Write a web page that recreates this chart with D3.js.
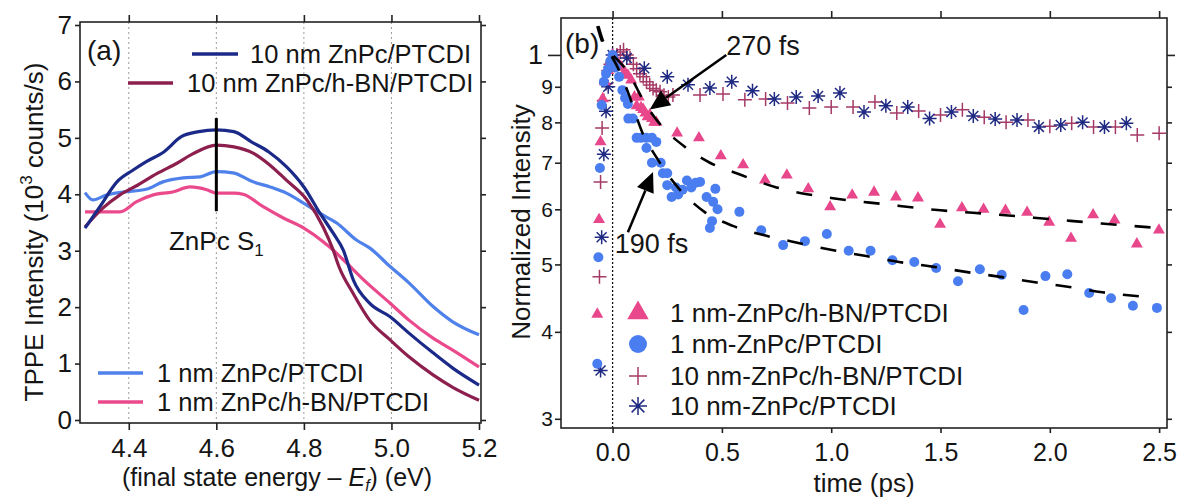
<!DOCTYPE html>
<html><head><meta charset="utf-8">
<script src="https://cdn.jsdelivr.net/npm/d3@7"></script>
<style>
body{margin:0;background:#fff}
svg{display:block}
text{font-family:"Liberation Sans",Arial,sans-serif;fill:#151515}
</style>
</head><body>
<svg id="c" width="1185" height="498"></svg>
<script>
// ---------------- Panel (a) data: [energy (eV), intensity (10^3 counts/s)] ----------------
const seriesNamesA = ["10 nm ZnPc/PTCDI","10 nm ZnPc/h-BN/PTCDI","1 nm ZnPc/PTCDI","1 nm ZnPc/h-BN/PTCDI"];
const thick10 = [[4.30,3.40],[4.334,3.78],[4.373,4.22],[4.41,4.43],[4.44,4.58],[4.48,4.75],[4.52,5.02],[4.56,5.11],[4.60,5.14],[4.64,5.11],[4.68,4.93],[4.72,4.75],[4.76,4.49],[4.80,4.13],[4.837,3.66],[4.867,3.31],[4.89,3.01],[4.913,2.48],[4.95,2.07],[4.997,1.83],[5.04,1.54],[5.095,1.19],[5.14,0.92],[5.20,0.62]];
const thick10hBN = [[4.30,3.42],[4.34,3.75],[4.38,3.99],[4.42,4.16],[4.465,4.37],[4.51,4.55],[4.547,4.72],[4.60,4.87],[4.64,4.84],[4.684,4.73],[4.722,4.52],[4.76,4.25],[4.807,3.90],[4.844,3.42],[4.867,3.01],[4.88,2.72],[4.912,2.25],[4.95,1.77],[4.997,1.42],[5.04,1.12],[5.095,0.80],[5.14,0.58],[5.20,0.35]];
const thin1 = [[4.30,4.03],[4.318,3.90],[4.35,3.99],[4.387,4.04],[4.44,4.09],[4.478,4.22],[4.524,4.29],[4.563,4.31],[4.60,4.40],[4.638,4.38],[4.684,4.22],[4.723,4.13],[4.76,4.02],[4.80,3.84],[4.837,3.66],[4.875,3.49],[4.92,3.19],[4.95,3.05],[4.997,2.72],[5.04,2.43],[5.095,2.01],[5.14,1.74],[5.20,1.51]];
const thin1hBN = [[4.30,3.69],[4.38,3.69],[4.418,3.87],[4.456,3.99],[4.50,4.04],[4.54,4.13],[4.578,4.08],[4.60,4.02],[4.64,4.02],[4.661,4.00],[4.707,3.78],[4.753,3.58],[4.80,3.40],[4.844,3.16],[4.867,3.01],[4.89,2.84],[4.944,2.43],[4.997,2.07],[5.04,1.77],[5.095,1.45],[5.14,1.24],[5.20,0.94]];
const xTicksA = [4.4,4.6,4.8,5.0,5.2];
const xTickLabelsA = ["4.4","4.6","4.8","5.0","5.2"];
const yTicksA = [0,1,2,3,4,5,6,7];
const yTickLabelsA = ["0","1","2","3","4","5","6","7"];
const gridA = [4.4,4.6,4.8,5.0];
const s1Marker = {e:4.6, top:5.35, bottom:3.7};

// ---------------- Panel (b) data: [time (ps), normalized intensity] ----------------
const seriesNamesB = ["1 nm-ZnPc/h-BN/PTCDI","1 nm-ZnPc/PTCDI","10 nm-ZnPc/h-BN/PTCDI","10 nm-ZnPc/PTCDI"];
const tri1hBN = [[-0.07,0.424],[-0.062,0.58],[-0.055,0.75],[-0.045,0.865],[-0.035,0.915],[-0.02,0.95],[-0.01,0.975],[0.0,1.0],[0.01,0.99],[0.025,0.975],[0.04,0.96],[0.055,0.945],[0.07,0.935],[0.085,0.92],[0.10,0.87],[0.11,0.845],[0.12,0.87],[0.13,0.84],[0.14,0.835],[0.15,0.825],[0.16,0.815],[0.17,0.82],[0.18,0.81],[0.19,0.80],[0.20,0.80],[0.295,0.772],[0.395,0.76],[0.495,0.716],[0.597,0.695],[0.697,0.661],[0.797,0.672],[0.895,0.642],[0.995,0.605],[1.096,0.629],[1.196,0.635],[1.296,0.625],[1.397,0.623],[1.498,0.571],[1.598,0.603],[1.697,0.60],[1.797,0.598],[1.896,0.594],[1.997,0.575],[2.097,0.545],[2.198,0.589],[2.296,0.579],[2.398,0.535],[2.499,0.56]];
const circ1 = [[-0.07,0.36],[-0.065,0.512],[-0.058,0.688],[-0.05,0.847],[-0.04,0.915],[-0.03,0.94],[-0.02,0.955],[-0.01,0.98],[0.0,1.0],[0.005,0.985],[0.015,0.96],[0.03,0.93],[0.045,0.89],[0.057,0.867],[0.07,0.85],[0.072,0.81],[0.093,0.81],[0.11,0.76],[0.13,0.76],[0.155,0.76],[0.18,0.76],[0.20,0.75],[0.155,0.735],[0.18,0.70],[0.22,0.70],[0.23,0.676],[0.25,0.676],[0.25,0.65],[0.27,0.625],[0.29,0.645],[0.30,0.63],[0.32,0.64],[0.34,0.66],[0.36,0.645],[0.38,0.655],[0.40,0.657],[0.43,0.625],[0.47,0.642],[0.46,0.615],[0.48,0.60],[0.455,0.577],[0.445,0.564],[0.58,0.595],[0.68,0.56],[0.78,0.533],[0.88,0.54],[0.98,0.553],[1.08,0.523],[1.18,0.523],[1.28,0.507],[1.38,0.504],[1.48,0.494],[1.58,0.473],[1.68,0.492],[1.78,0.483],[1.88,0.43],[1.98,0.481],[2.08,0.484],[2.18,0.455],[2.28,0.447],[2.38,0.436],[2.49,0.433]];
const plus10hBN = [[-0.06,0.48],[-0.055,0.657],[-0.048,0.785],[-0.04,0.86],[-0.03,0.91],[-0.02,0.95],[-0.01,0.97],[0.0,0.98],[0.02,1.0],[0.035,1.01],[0.05,1.017],[0.065,1.0],[0.08,0.99],[0.095,0.97],[0.11,0.955],[0.125,0.94],[0.14,0.93],[0.155,0.915],[0.17,0.905],[0.185,0.895],[0.20,0.89],[0.217,0.885],[0.235,0.875],[0.255,0.87],[0.276,0.876],[0.40,0.876],[0.505,0.879],[0.605,0.862],[0.70,0.864],[0.80,0.853],[0.90,0.839],[1.0,0.842],[1.1,0.842],[1.2,0.856],[1.3,0.825],[1.4,0.831],[1.5,0.82],[1.6,0.834],[1.7,0.814],[1.8,0.80],[1.9,0.806],[2.0,0.79],[2.1,0.798],[2.2,0.788],[2.3,0.788],[2.4,0.767],[2.5,0.772]];
const star10 = [[-0.055,0.352],[-0.05,0.547],[-0.04,0.72],[-0.03,0.83],[-0.02,0.90],[-0.01,0.96],[0.0,1.0],[0.065,0.99],[0.145,0.957],[0.25,0.93],[0.345,0.906],[0.445,0.896],[0.545,0.915],[0.64,0.888],[0.74,0.864],[0.84,0.87],[0.94,0.873],[1.04,0.882],[1.15,0.828],[1.25,0.845],[1.35,0.842],[1.45,0.81],[1.55,0.828],[1.65,0.817],[1.75,0.809],[1.85,0.806],[1.95,0.788],[2.05,0.793],[2.15,0.80],[2.25,0.788],[2.35,0.798]];
const fitTri = [[-0.065,1.10],[-0.04,1.04],[-0.015,1.01],[0.0,1.0],[0.07,0.945],[0.15,0.85],[0.21,0.80],[0.33,0.738],[0.445,0.70],[0.567,0.676],[0.75,0.645],[1.0,0.623],[1.25,0.61],[1.5,0.598],[1.75,0.59],[2.0,0.581],[2.25,0.572],[2.5,0.564]];
const fitCirc = [[-0.07,1.10],[-0.045,1.04],[-0.02,1.01],[0.0,0.99],[0.07,0.885],[0.135,0.775],[0.20,0.713],[0.29,0.65],[0.42,0.595],[0.55,0.568],[0.70,0.55],[0.86,0.536],[1.01,0.524],[1.16,0.514],[1.31,0.504],[1.47,0.496],[1.63,0.487],[1.79,0.479],[1.94,0.471],[2.09,0.464],[2.24,0.456],[2.44,0.449]];
const xTicksB = [0,0.5,1.0,1.5,2.0,2.5];
const xTickLabelsB = ["0.0","0.5","1.0","1.5","2.0","2.5"];
const yTicksB = [0.3,0.4,0.5,0.6,0.7,0.8,0.9,1];
const yTickLabelsB = ["3","4","5","6","7","8","9","1"];
const arrows = [{label:"270 fs", from:[0.52,1.0], to:[0.17,0.835], text:[0.52,1.0]},
                {label:"190 fs", from:[0.07,0.556], to:[0.185,0.679], text:[0.01,0.519]}];

// ---------------- colours ----------------
const cNavy="#1b2a88", cMaroon="#8c1f4e", cBlue="#4f81ea", cPink="#ea4a8c";
const mPink="#e9478b", mBlue="#4a7ef0", mPlus="#a53a66", mStar="#1f2a82";
const axisCol="#222";

const svg = d3.select("#c");

function styleAxis(g, fs){
  g.select(".domain").remove();
  g.selectAll(".tick line").attr("stroke",axisCol).attr("stroke-width",1.6);
  g.selectAll("text").attr("font-size",fs).attr("fill","#151515")
   .style("font-family","'Liberation Sans',Arial,sans-serif");
}

// ================= PANEL A =================
const xA = d3.scaleLinear().domain([4.3,5.2]).range([85,479]);
const yA = d3.scaleLinear().domain([0,7]).range([420,25]);
const fA = {l:80, r:481, t:22, b:423};

svg.append("g").selectAll("line").data(gridA).join("line")
  .attr("x1",d=>xA(d)).attr("x2",d=>xA(d)).attr("y1",fA.t).attr("y2",fA.b)
  .attr("stroke","#9a9a9a").attr("stroke-width",1).attr("stroke-dasharray","2,3");

svg.append("g").attr("transform",`translate(${fA.l},0)`)
  .call(d3.axisLeft(yA).tickValues(yTicksA).tickSize(5).tickPadding(3).tickFormat((d,i)=>yTickLabelsA[i])).call(g=>styleAxis(g,26));
svg.append("g").attr("transform",`translate(${fA.r},0)`)
  .call(d3.axisRight(yA).tickValues(yTicksA).tickSize(5).tickFormat("")).call(g=>styleAxis(g,26));
svg.append("g").attr("transform",`translate(0,${fA.b})`)
  .call(d3.axisBottom(xA).tickValues(xTicksA).tickSize(7).tickPadding(9).tickFormat((d,i)=>xTickLabelsA[i])).call(g=>styleAxis(g,26));
svg.append("g").attr("transform",`translate(0,${fA.t})`)
  .call(d3.axisTop(xA).tickValues(xTicksA).tickSize(7).tickFormat("")).call(g=>styleAxis(g,26));
svg.append("rect").attr("x",fA.l).attr("y",fA.t).attr("width",fA.r-fA.l).attr("height",fA.b-fA.t)
  .attr("fill","none").attr("stroke",axisCol).attr("stroke-width",1.6);

const lineA = d3.line().x(d=>xA(d[0])).y(d=>yA(d[1])).curve(d3.curveMonotoneX);
const curvesA = [[thin1,cBlue],[thin1hBN,cPink],[thick10hBN,cMaroon],[thick10,cNavy]];
svg.append("g").selectAll("path").data(curvesA).join("path")
  .attr("d",d=>lineA(d[0])).attr("fill","none").attr("stroke",d=>d[1]).attr("stroke-width",3.2);

svg.append("line").attr("x1",xA(s1Marker.e)).attr("x2",xA(s1Marker.e))
  .attr("y1",yA(s1Marker.top)).attr("y2",yA(s1Marker.bottom)).attr("stroke","#000").attr("stroke-width",3);
const s1t = svg.append("text").attr("x",xA(s1Marker.e)).attr("y",250).attr("text-anchor","middle").attr("font-size",26);
s1t.append("tspan").text("ZnPc S");
s1t.append("tspan").text("1").attr("font-size",17).attr("dy",6);

svg.append("text").attr("x",87).attr("y",60).attr("font-size",28).text("(a)");

// legend (a)
const legA = [
  {name:seriesNamesA[0], col:cNavy, x1:192, x2:238, y:54, tx:250},
  {name:seriesNamesA[1], col:cMaroon, x1:128, x2:173, y:83, tx:187},
  {name:seriesNamesA[2], col:cBlue, x1:98, x2:143, y:373, tx:157},
  {name:seriesNamesA[3], col:cPink, x1:98, x2:143, y:402, tx:157}];
legA.forEach(d=>{
  svg.append("line").attr("x1",d.x1).attr("x2",d.x2).attr("y1",d.y).attr("y2",d.y).attr("stroke",d.col).attr("stroke-width",3.5);
  svg.append("text").attr("x",d.tx).attr("y",d.y+9).attr("font-size",25.5).text(d.name);
});

// axis titles (a)
const xtA = svg.append("text").attr("x",277).attr("y",486).attr("text-anchor","middle").attr("font-size",25);
xtA.append("tspan").text("(final state energy \u2013 ");
xtA.append("tspan").text("E").attr("font-style","italic");
xtA.append("tspan").text("f").attr("font-style","italic").attr("font-size",16).attr("dy",5);
xtA.append("tspan").text(") (eV)").attr("dy",-5);
const ytA = svg.append("text").attr("transform","translate(43,232) rotate(-90)").attr("text-anchor","middle").attr("font-size",26);
ytA.append("tspan").text("TPPE Intensity (10");
ytA.append("tspan").text("3").attr("font-size",17).attr("dy",-11);
ytA.append("tspan").text(" counts/s)").attr("dy",11);

// ================= PANEL B =================
const xB = d3.scaleLinear().domain([-0.236,2.536]).range([561,1167]);
const yB = d3.scaleLog().domain([0.291,1.13]).range([428,18]);
const fB = {l:561, r:1167, t:18, b:428};

svg.append("line").attr("x1",xB(0)).attr("x2",xB(0)).attr("y1",fB.t).attr("y2",fB.b)
  .attr("stroke","#111").attr("stroke-width",1.3).attr("stroke-dasharray","2,2");

const gyL = svg.append("g").attr("transform",`translate(${fB.l},0)`)
  .call(d3.axisLeft(yB).tickValues(yTicksB).tickSize(6).tickPadding(2).tickFormat((d,i)=>yTickLabelsB[i])).call(g=>styleAxis(g,21));
gyL.selectAll(".tick").filter(d=>d===1).call(t=>{
  t.select("line").attr("x2",-13);
  t.select("text").attr("x",-18).attr("font-size",27);
});
const gyR = svg.append("g").attr("transform",`translate(${fB.r},0)`)
  .call(d3.axisRight(yB).tickValues(yTicksB).tickSize(5).tickFormat("")).call(g=>styleAxis(g,21));
gyR.selectAll(".tick").filter(d=>d===1).select("line").attr("x2",8);
svg.append("g").attr("transform",`translate(0,${fB.b})`)
  .call(d3.axisBottom(xB).tickValues(xTicksB).tickSize(5).tickPadding(10).tickFormat((d,i)=>xTickLabelsB[i])).call(g=>styleAxis(g,25));
svg.append("g").attr("transform",`translate(0,${fB.t})`)
  .call(d3.axisTop(xB).tickValues(xTicksB).tickSize(7).tickFormat("")).call(g=>styleAxis(g,25));
svg.append("rect").attr("x",fB.l).attr("y",fB.t).attr("width",fB.r-fB.l).attr("height",fB.b-fB.t)
  .attr("fill","none").attr("stroke",axisCol).attr("stroke-width",1.6);

svg.append("clipPath").attr("id","clipB").append("rect")
  .attr("x",fB.l).attr("y",fB.t).attr("width",fB.r-fB.l).attr("height",fB.b-fB.t);
const pB = svg.append("g").attr("clip-path","url(#clipB)");

function starPath(r){
  const a=r*0.7071;
  return `M${-r},0L${r},0M0,${-r}L0,${r}M${-a},${-a}L${a},${a}M${-a},${a}L${a},${-a}`;
}
function plusPath(r){ return `M${-r},0L${r},0M0,${-r}L0,${r}`; }

// markers
pB.append("g").selectAll("path").data(plus10hBN).join("path")
  .attr("transform",d=>`translate(${xB(d[0])},${yB(d[1])})`).attr("d",plusPath(7))
  .attr("stroke",mPlus).attr("stroke-width",1.5).attr("fill","none");
pB.append("g").selectAll("g").data(star10).join("g")
  .attr("transform",d=>`translate(${xB(d[0])},${yB(d[1])})`)
  .call(g=>{g.append("path").attr("d",starPath(7)).attr("stroke",mStar).attr("stroke-width",1.5).attr("fill","none");
            g.append("circle").attr("r",1.6).attr("fill",mStar);});
pB.append("g").selectAll("path").data(tri1hBN).join("path")
  .attr("transform",d=>`translate(${xB(d[0])},${yB(d[1])})`).attr("d",d3.symbol(d3.symbolTriangle,62)())
  .attr("fill",mPink);
pB.append("g").selectAll("circle").data(circ1).join("circle")
  .attr("cx",d=>xB(d[0])).attr("cy",d=>yB(d[1])).attr("r",5).attr("fill",mBlue);

// fits
const lineB = d3.line().x(d=>xB(d[0])).y(d=>yB(d[1])).curve(d3.curveMonotoneX);
pB.append("g").selectAll("path").data([fitTri,fitCirc]).join("path")
  .attr("d",d=>lineB(d)).attr("fill","none").attr("stroke","#000").attr("stroke-width",2.6)
  .attr("stroke-dasharray","16,18");

// arrows
arrows.forEach(a=>{
  const x1=xB(a.from[0]), y1=yB(a.from[1]), x2=xB(a.to[0]), y2=yB(a.to[1]);
  const ang=Math.atan2(y2-y1,x2-x1), L=20, W=9;
  const bx=x2-L*Math.cos(ang), by=y2-L*Math.sin(ang);
  svg.append("line").attr("x1",x1).attr("y1",y1).attr("x2",bx).attr("y2",by).attr("stroke","#000").attr("stroke-width",2.5);
  svg.append("path").attr("d",`M${x2},${y2}L${bx+W*Math.sin(ang)},${by-W*Math.cos(ang)}L${bx-W*Math.sin(ang)},${by+W*Math.cos(ang)}Z`).attr("fill","#000");
  svg.append("text").attr("x",xB(a.text[0])).attr("y",yB(a.text[1])).attr("font-size",27).text(a.label);
});

svg.append("text").attr("x",565).attr("y",53).attr("font-size",28).text("(b)");

// legend (b)
const legB = [{y:313,type:"tri"},{y:344,type:"circ"},{y:376,type:"plus"},{y:406,type:"star"}];
legB.forEach((d,i)=>{
  const g = svg.append("g").attr("transform",`translate(638,${d.y})`);
  if(d.type==="tri") g.append("path").attr("d",d3.symbol(d3.symbolTriangle,200)()).attr("fill",mPink);
  if(d.type==="circ") g.append("circle").attr("r",9).attr("fill",mBlue);
  if(d.type==="plus") g.append("path").attr("d",plusPath(9)).attr("stroke",mPlus).attr("stroke-width",1.5);
  if(d.type==="star"){ g.append("path").attr("d",starPath(9)).attr("stroke",mStar).attr("stroke-width",1.5); g.append("circle").attr("r",1.8).attr("fill",mStar); }
  svg.append("text").attr("x",670).attr("y",d.y+9).attr("font-size",26).text(seriesNamesB[i]);
});

// axis titles (b)
svg.append("text").attr("transform","translate(530,222) rotate(-90)").attr("text-anchor","middle").attr("font-size",26).text("Normalized Intensity");
svg.append("text").attr("x",864).attr("y",492).attr("text-anchor","middle").attr("font-size",26).text("time (ps)");
</script>
</body></html>
